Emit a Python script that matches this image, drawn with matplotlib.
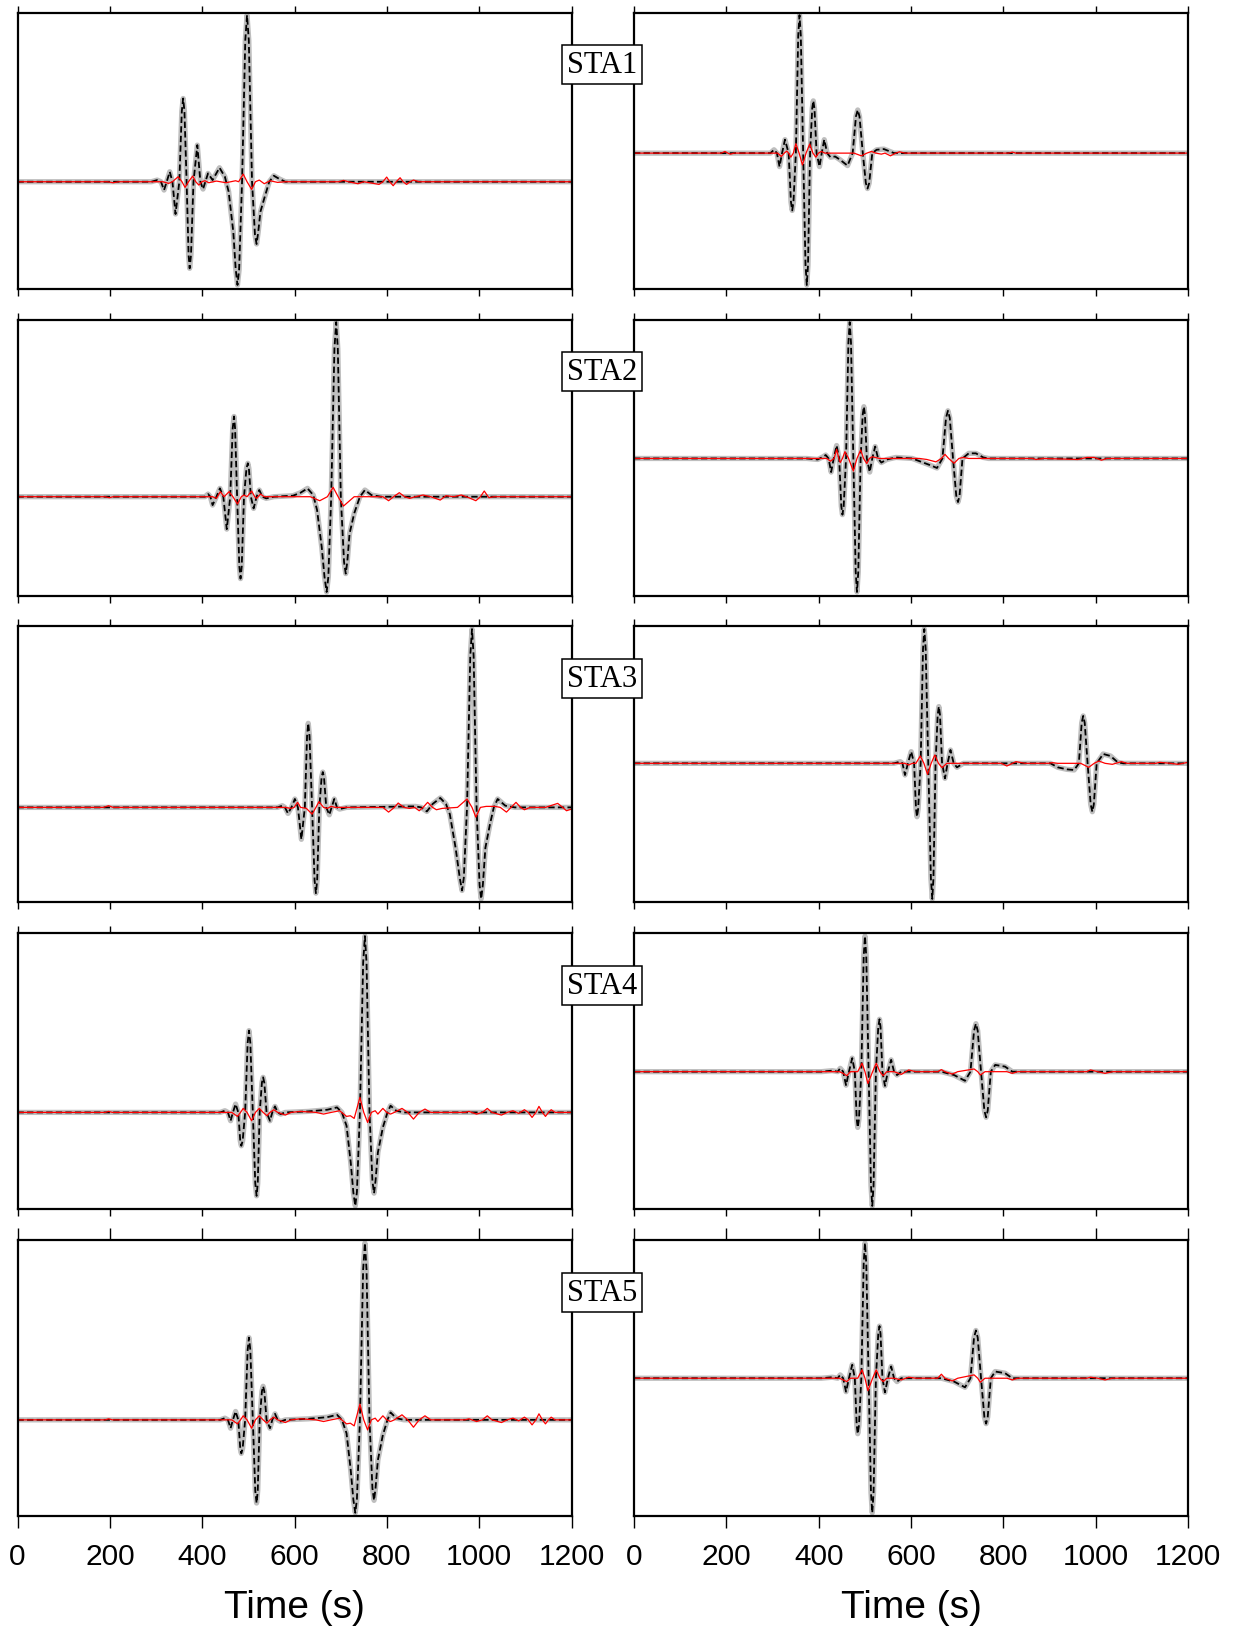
import matplotlib
matplotlib.use("Agg")
import matplotlib.pyplot as plt

plt.rcParams['font.family'] = ['Liberation Sans', 'DejaVu Sans']

stations = ["STA1", "STA2", "STA3", "STA4", "STA5"]
xticks = [0, 200, 400, 600, 800, 1000, 1200]

# ---- traces (time in s, amplitude in arbitrary units)
# observed (grey) and synthetic (black dashed) overlap, so one set of knots
t_sta1_l = [0, 290.0, 302.5, 310.8, 317.4, 323.2, 329.8, 335.6, 342.3, 350.5, 355.9, 358.8, 361.6, 366.3,
            370.6, 372.9, 375.8, 381.2, 389.5, 396.1, 401.9, 406.9, 412.7, 422.6, 437.5, 449.2, 457.4,
            467.4, 472.5, 476.5, 480.0, 486.4, 493.4, 497.2, 501.0, 508.0, 514.4, 517.9, 521.5, 526.2,
            534.5, 545.3, 555.2, 567.7, 580.1, 1200]
a_sta1_l = [0, 0, 5, 0, -25, 0, 30, 0, -97, 0, 212, 250, 212, 0, -220, -260, -220, 0, 110, 0, -22, 0, 25,
            5, 42, 15, -30, -150, -260, -310, -265, 0, 425, 500, 425, 0, -160, -187, -150, -90, -50, 0,
            18, 8, 0, 0]
rt_sta1_l = [0, 194.7, 207.2, 219.6, 314.9, 327.3, 335.6, 348.0, 356.3, 362.9, 370.4, 379.5, 386.1, 392.8,
             399.4, 406.0, 414.3, 430.9, 451.6, 472.4, 479.0, 488.9, 497.2, 507.1, 515.4, 523.7, 534.5,
             546.9, 563.5, 580.1, 696.1, 706.1, 716.8, 737.5, 750.0, 783.1, 791.4, 799.7, 806.3, 813.8,
             820.4, 828.7, 835.3, 842.8, 850.2, 857.7, 870.1, 1200]
ra_sta1_l = [0, 0, -3, 0, 0, -5, 0, 15, 0, -17, 0, 17, 0, -10, 0, 3, -3, 2, -3, 3, 0, 23, 0, -23, 0, 5, -6,
             3, -2, 0, 0, 4, 0, -6, 0, -8, 0, 14, 0, -12, 0, 12, 0, -8, 0, 5, 0, 0]

t_sta1_r = [0, 295.5, 303.3, 309.6, 315.2, 320.7, 327.0, 334.9, 340.0, 342.7, 345.4, 350.6, 355.7, 358.5,
            361.3, 366.4, 371.5, 374.3, 376.9, 381.4, 386.0, 388.4, 390.9, 395.5, 401.8, 406.6, 412.1,
            418.4, 425.5, 435.7, 446.7, 462.5, 473.6, 480.8, 484.6, 488.4, 495.6, 502.2, 505.8, 509.4,
            516.1, 525.5, 541.3, 563.3, 1200]
a_sta1_r = [0, 0, 10, 0, -40, 0, 40, 0, -145, -170, -145, 0, 348, 409, 348, 0, -332, -391, -332, 0, 132,
            155, 132, 0, -40, 0, 40, 0, -12, -10, -20, -37, 0, 109, 128, 109, 0, -89, -105, -89, 0, 10,
            12, 0, 0]
rt_sta1_r = [0, 189.1, 197.0, 203.3, 208.8, 216.7, 311.2, 319.1, 325.4, 330.9, 334.9, 339.6, 345.1, 350.6,
             357.7, 364.8, 372.7, 380.6, 387.6, 393.9, 399.5, 405.8, 413.6, 476.7, 492.4, 504.3, 514.5,
             524.0, 535.8, 543.6, 555.5, 567.3, 575.2, 587.0, 811.5, 819.4, 827.3, 1200]
ra_sta1_r = [0, 0, 5, 0, -3, 0, 0, -10, 0, 6, 0, -12, 0, 28, 0, -35, 0, 27, 0, -12, 0, 5, 0, 0, -8, 0, 5,
             0, -3, 0, -8, 0, 4, 0, 0, 3, 0, 0]

t_sta2_l = [0, 397.8, 406.1, 412.7, 417.7, 422.6, 430.9, 438.4, 445.8, 453.3, 460.8, 466.1, 469.0, 471.3,
            475.7, 480.5, 483.1, 485.7, 490.6, 496.0, 498.9, 501.2, 505.5, 511.4, 517.9, 523.7, 530.4,
            538.7, 555.2, 596.7, 613.2, 628.2, 640.6, 648.9, 658.9, 665.0, 669.6, 673.3, 679.5, 686.5,
            690.3, 693.8, 700.3, 707.3, 711.0, 714.3, 719.3, 729.3, 741.7, 752.5, 766.6, 787.3, 1200]
a_sta2_l = [0, 0, 0, 8, 0, -25, 0, 25, 0, -97, 0, 204, 240, 204, 0, -208, -245, -208, 0, 85, 100, 85, 0,
            -35, 0, 20, 0, -5, 0, 3, 12, 25, 5, -40, -150, -240, -285, -240, 0, 444, 522, 444, 0, -195,
            -230, -195, -110, -50, 0, 20, 5, 0, 0]
rt_sta2_l = [0, 190.6, 198.9, 207.2, 422.6, 430.9, 439.2, 447.5, 458.3, 466.6, 476.5, 484.8, 490.6, 497.2,
             507.1, 513.8, 517.9, 526.2, 534.5, 621.5, 634.0, 654.7, 671.2, 683.7, 694.5, 706.1, 729.3,
             791.4, 803.8, 814.6, 827.0, 838.6, 849.4, 861.8, 878.4, 895.0, 915.7, 928.1, 944.7, 961.3,
             977.9, 992.8, 1002.7, 1011.0, 1021.0, 1031.7, 1200]
ra_sta2_l = [0, 0, -3, 0, 0, -5, 15, 0, 15, 0, -22, 0, 5, 0, 17, 0, -5, 8, 0, 0, 0, -12, 0, 28, 0, -28, 0,
             0, -12, 0, 12, 0, -5, 0, 5, 0, -10, 3, 0, 5, -3, -12, 0, 17, -3, 0, 0]

t_sta2_r = [0, 374.3, 397.9, 409.7, 415.2, 421.5, 427.0, 432.6, 438.9, 444.4, 449.0, 451.5, 454.2, 459.3,
            464.4, 467.2, 470.0, 475.1, 480.2, 483.0, 485.8, 490.9, 495.4, 497.9, 500.2, 504.3, 510.6,
            516.1, 522.4, 528.7, 535.8, 547.7, 567.3, 602.7, 622.4, 642.1, 656.3, 668.1, 675.8, 680.0,
            684.0, 691.0, 698.0, 701.8, 705.2, 711.5, 724.9, 740.6, 756.4, 768.2, 1200]
a_sta2_r = [0, 0, -3, 5, 10, 0, -40, 0, 38, 0, -140, -165, -140, 0, 340, 400, 340, 0, -333, -392, -333, 0,
            129, 152, 129, 0, -40, 0, 35, 0, -12, -3, 3, 0, -10, -20, -28, 0, 119, 140, 119, 0, -109,
            -128, -109, 0, 15, 15, 3, 0, 0]
rt_sta2_r = [0, 417.6, 425.5, 433.4, 438.9, 443.6, 446.7, 451.5, 456.9, 464.8, 475.1, 483.0, 490.9, 497.2,
             504.3, 509.8, 516.1, 531.8, 618.5, 634.3, 654.0, 665.8, 673.6, 681.5, 693.3, 703.6, 713.1,
             724.9, 862.8, 870.7, 886.4, 961.3, 981.0, 996.8, 1012.5, 1024.4, 1200]
ra_sta2_r = [0, 0, -8, 0, 27, 0, -12, 0, 20, 0, -37, 0, 25, 0, -15, 0, 5, 0, 0, -3, -10, 0, 12, 0, -14, 0,
             3, 0, 0, -3, 0, -3, 3, 3, -5, 0, 0]

t_sta3_l = [0, 563.5, 573.5, 579.3, 585.9, 593.3, 600.8, 607.4, 614.9, 622.4, 627.2, 629.8, 632.5, 638.1,
            643.5, 646.4, 649.1, 653.8, 658.7, 661.3, 663.9, 668.8, 675.4, 680.4, 686.2, 692.0, 697.8,
            712.7, 861.8, 874.3, 886.7, 899.1, 915.7, 928.1, 936.4, 948.9, 958.0, 962.9, 966.7, 973.7,
            980.7, 984.5, 988.0, 994.4, 1000.9, 1004.4, 1008.0, 1013.5, 1023.4, 1031.7, 1040.0, 1056.6,
            1077.3, 1200]
a_sta3_l = [0, 0, 5, 0, -18, 0, 25, 0, -95, 0, 212, 250, 212, 0, -217, -255, -217, 0, 89, 105, 89, 0, -22,
            0, 25, 0, -5, 0, 3, 0, -12, 10, 28, 10, -20, -120, -210, -247, -210, 0, 450, 530, 450, 0,
            -231, -272, -230, -120, -50, 0, 25, 5, 0, 0]
rt_sta3_l = [0, 186.5, 197.2, 207.2, 580.1, 592.5, 599.2, 606.6, 613.2, 625.7, 638.1, 646.4, 653.0, 662.9,
             671.2, 679.5, 687.8, 791.4, 803.8, 816.3, 824.6, 837.0, 849.4, 860.2, 870.1, 878.4, 888.4,
             899.1, 907.4, 919.9, 953.0, 973.7, 984.5, 992.8, 1002.7, 1015.2, 1034.2, 1045.8, 1059.1,
             1069.0, 1079.8, 1089.7, 1098.0, 1110.5, 1143.6, 1170.1, 1180.9, 1189.2, 1200]
ra_sta3_l = [0, 0, 5, 0, 0, -3, 0, 15, 0, -3, -20, 0, 17, 0, -3, 3, 0, 0, -14, 0, 13, 0, -3, 0, -10, 0, 15,
             0, -7, -3, 0, 25, 0, -29, 0, 3, 3, 0, -14, 0, 15, 0, -7, 0, 0, 12, 0, -10, -5]

t_sta3_r = [0, 563.3, 576.7, 581.5, 587.0, 593.3, 600.4, 606.7, 610.8, 613.0, 615.5, 620.9, 626.0, 628.8,
            631.8, 637.4, 643.1, 646.1, 648.6, 653.2, 657.8, 660.3, 662.8, 667.3, 673.6, 679.2, 685.5,
            692.5, 699.6, 713.1, 902.1, 917.9, 937.6, 953.4, 963.6, 969.7, 973.0, 976.3, 982.5, 989.2,
            992.8, 996.0, 1002.2, 1016.4, 1032.1, 1047.9, 1059.7, 1200]
a_sta3_r = [0, 0, 5, 0, -35, 0, 35, 0, -136, -160, -136, 0, 342, 402, 342, 0, -345, -406, -345, 0, 145,
            170, 145, 0, -45, 0, 40, 0, -12, 0, 0, -12, -18, -20, 0, 121, 142, 121, 0, -123, -145, -123,
            0, 28, 22, 3, 0, 0]
rt_sta3_r = [0, 587.0, 594.9, 602.7, 610.6, 620.1, 628.0, 635.8, 643.7, 651.6, 659.5, 667.3, 677.6, 689.4,
             795.8, 807.6, 827.3, 847.0, 898.2, 906.1, 917.9, 957.3, 967.6, 984.9, 996.7, 1006.9, 1020.4,
             1036.1, 1055.8, 1067.6, 1130.7, 1138.5, 1162.2, 1178.0, 1200]
ra_sta3_r = [0, 0, -5, 0, 0, 22, 0, -33, 0, 25, 0, -13, 0, 0, 0, -8, 5, 0, 0, 2, 0, 0, 0, -12, 0, 7, 0, -3,
             5, 0, 0, 3, 0, -3, 3]

t_sta4_l = [0, 439.2, 449.2, 455.8, 461.6, 466.6, 472.4, 478.2, 482.5, 484.8, 487.7, 493.1, 498.5, 501.4,
            504.3, 509.7, 515.0, 517.9, 520.4, 524.6, 529.4, 532.0, 534.6, 539.5, 546.9, 551.9, 557.7,
            563.5, 570.1, 580.1, 629.8, 671.2, 692.0, 702.7, 712.7, 721.8, 727.5, 731.7, 735.2, 741.7,
            748.7, 752.5, 756.0, 762.4, 768.8, 772.3, 775.5, 780.6, 791.4, 801.4, 808.0, 820.4, 837.0, 1200]
a_sta4_l = [0, 0, 5, 0, -25, 0, 25, 0, -85, -100, -85, 0, 208, 245, 208, 0, -212, -250, -212, 0, 89, 105,
            89, 0, -25, 0, 18, 0, -5, 0, 3, 8, 15, 0, -40, -150, -240, -280, -238, 0, 449, 528, 449, 0,
            -206, -242, -205, -120, -45, 0, 20, 5, 0, 0]
rt_sta4_l = [0, 190.6, 197.2, 205.5, 464.1, 476.5, 483.1, 488.9, 497.2, 507.1, 515.4, 523.7, 532.0, 540.3,
             546.9, 555.2, 563.5, 580.1, 592.5, 613.2, 646.4, 662.9, 679.5, 697.8, 712.7, 721.0, 729.3,
             741.7, 750.0, 758.3, 766.5, 774.8, 780.6, 791.4, 799.7, 808.0, 816.3, 832.8, 845.3, 857.7,
             870.1, 882.6, 895.0, 969.6, 977.9, 994.4, 1006.9, 1017.6, 1027.6, 1048.3, 1060.7, 1073.2,
             1085.6, 1098.0, 1106.3, 1114.6, 1122.9, 1129.5, 1137.0, 1143.6, 1150.2, 1156.0, 1164.3, 1200]
ra_sta4_l = [0, 0, 3, 0, 0, -12, 0, 12, 0, -25, 0, 12, 0, -10, 0, 8, 0, -8, 0, 3, 0, -5, 0, 5, -12, -10,
             -18, 45, 0, -30, 0, 5, -5, 12, 0, -5, 0, 12, 0, -20, 0, 10, 0, 0, 3, -5, 0, 12, 0, -8, 0, 5,
             -3, 8, 0, -15, 0, 18, 0, -12, 0, 8, 0, 0]

t_sta4_r = [0, 405.8, 429.4, 441.2, 446.7, 453.0, 459.3, 465.6, 472.7, 478.3, 482.4, 484.6, 487.3, 492.4,
            497.5, 500.3, 503.1, 508.2, 513.3, 516.1, 518.9, 524.0, 529.1, 531.8, 534.0, 538.1, 543.6,
            549.9, 557.0, 563.3, 569.7, 579.1, 665.8, 693.3, 717.0, 728.8, 736.5, 740.6, 744.5, 751.7,
            758.9, 762.7, 766.2, 772.9, 782.4, 803.7, 819.4, 1200]
a_sta4_r = [0, 0, 3, 0, 10, 0, -40, 0, 40, 0, -140, -165, -140, 0, 341, 401, 341, 0, -337, -397, -337, 0,
            132, 155, 132, 0, -42, 0, 35, 0, -10, 0, 0, -10, -27, 0, 121, 142, 121, 0, -115, -135, -115,
            0, 20, 15, 0, 0]
rt_sta4_r = [0, 445.2, 453.0, 460.9, 468.8, 478.3, 484.6, 494.0, 500.3, 506.6, 516.9, 524.7, 532.6, 539.7,
             547.6, 563.3, 579.1, 594.9, 610.6, 657.9, 665.8, 673.6, 689.4, 701.2, 736.7, 744.6, 750.1,
             760.3, 807.6, 819.4, 831.2, 980.9, 988.8, 1004.6, 1020.3, 1036.1, 1200]
ra_sta4_r = [0, 0, -5, -12, 0, 0, 0, 25, 0, -35, 0, 25, 0, -12, 0, 0, -8, 5, 0, 0, 6, 0, -7, 0, 8, 0, -10,
             0, 0, -5, 0, 0, 5, 0, -5, 0, 0]

t_sta5_l = [0, 439.2, 449.2, 455.8, 461.6, 466.6, 472.4, 478.2, 482.5, 484.8, 487.7, 493.1, 498.5, 501.4,
            504.3, 509.7, 515.0, 517.9, 520.4, 524.6, 529.4, 532.0, 534.6, 539.5, 546.9, 551.9, 557.7,
            563.5, 570.1, 580.1, 629.8, 671.2, 692.0, 702.7, 712.7, 721.8, 727.5, 731.7, 735.2, 741.7,
            748.7, 752.5, 756.0, 762.4, 768.8, 772.3, 775.5, 780.6, 791.4, 801.4, 808.0, 820.4, 837.0, 1200]
a_sta5_l = [0, 0, 5, 0, -25, 0, 25, 0, -85, -100, -85, 0, 208, 245, 208, 0, -211, -248, -211, 0, 85, 100,
            85, 0, -25, 0, 18, 0, -5, 0, 3, 8, 15, 0, -40, -150, -238, -277, -236, 0, 448, 527, 448, 0,
            -204, -240, -204, -120, -45, 0, 22, 5, 0, 0]
rt_sta5_l = [0, 190.6, 197.2, 205.5, 464.1, 476.5, 483.1, 488.9, 497.2, 507.1, 515.4, 523.7, 532.0, 540.3,
             546.9, 555.2, 563.5, 580.1, 592.5, 613.2, 646.4, 662.9, 679.5, 697.8, 712.7, 721.0, 729.3,
             741.7, 750.0, 758.3, 766.5, 774.8, 780.6, 791.4, 799.7, 808.0, 816.3, 832.8, 845.3, 857.7,
             870.1, 882.6, 895.0, 969.6, 977.9, 994.4, 1006.9, 1017.6, 1027.6, 1048.3, 1060.7, 1073.2,
             1085.6, 1098.0, 1106.3, 1114.6, 1122.9, 1129.5, 1137.0, 1143.6, 1150.2, 1156.0, 1164.3, 1200]
ra_sta5_l = [0, 0, 3, 0, 0, -12, 0, 12, 0, -25, 0, 12, 0, -10, 0, 8, 0, -8, 0, 3, 0, -5, 0, 5, -12, -10,
             -18, 47, 0, -30, 0, 5, -5, 12, 0, -5, 0, 15, 0, -22, 0, 12, 0, 0, 3, -5, 0, 12, 0, -8, 0, 5,
             -3, 8, 0, -15, 0, 18, 0, -12, 0, 8, 0, 0]

t_sta5_r = [0, 405.8, 429.4, 441.2, 446.7, 453.0, 459.3, 465.6, 472.7, 478.3, 482.4, 484.6, 487.3, 492.4,
            497.5, 500.3, 503.1, 508.2, 513.3, 516.1, 518.9, 524.0, 529.1, 531.8, 534.0, 538.1, 543.6,
            549.9, 557.0, 563.3, 569.7, 579.1, 665.8, 693.3, 717.0, 728.8, 736.5, 740.6, 744.5, 751.7,
            758.9, 762.7, 766.2, 772.9, 782.4, 803.7, 819.4, 1200]
a_sta5_r = [0, 0, 3, 0, 10, 0, -40, 0, 40, 0, -140, -165, -140, 0, 342, 402, 342, 0, -340, -400, -340, 0,
            132, 155, 132, 0, -42, 0, 35, 0, -10, 0, 0, -10, -27, 0, 121, 142, 121, 0, -115, -135, -115,
            0, 20, 15, 0, 0]
rt_sta5_r = [0, 445.2, 453.0, 460.9, 468.8, 478.3, 484.6, 494.0, 500.3, 506.6, 516.9, 524.7, 532.6, 539.7,
             547.6, 563.3, 579.1, 594.9, 610.6, 657.9, 665.8, 673.6, 689.4, 701.2, 736.7, 744.6, 750.1,
             760.3, 807.6, 819.4, 831.2, 980.9, 988.8, 1004.6, 1020.3, 1036.1, 1200]
ra_sta5_r = [0, 0, -5, -10, 0, 0, 0, 25, 0, -37, 0, 25, 0, -10, 0, 0, -5, 3, 0, 0, 12, 0, -8, 0, 10, 0, -12,
             0, 0, -5, 0, 0, 3, 0, -5, 0, 0]

panels = [
    [(t_sta1_l, a_sta1_l, rt_sta1_l, ra_sta1_l), (t_sta1_r, a_sta1_r, rt_sta1_r, ra_sta1_r)],
    [(t_sta2_l, a_sta2_l, rt_sta2_l, ra_sta2_l), (t_sta2_r, a_sta2_r, rt_sta2_r, ra_sta2_r)],
    [(t_sta3_l, a_sta3_l, rt_sta3_l, ra_sta3_l), (t_sta3_r, a_sta3_r, rt_sta3_r, ra_sta3_r)],
    [(t_sta4_l, a_sta4_l, rt_sta4_l, ra_sta4_l), (t_sta4_r, a_sta4_r, rt_sta4_r, ra_sta4_r)],
    [(t_sta5_l, a_sta5_l, rt_sta5_l, ra_sta5_l), (t_sta5_r, a_sta5_r, rt_sta5_r, ra_sta5_r)],
]

# ---- layout (pixels of the 1233x1631 canvas)
W, H = 1233, 1631
col_left = [17.5, 634.0]
ax_w, ax_h = 554.0, 276.0
row_top = [13.5, 320.5, 627.4, 934.4, 1241.3]

fig = plt.figure(figsize=(W / 100, H / 100), dpi=100)

for i, row in enumerate(panels):
    for j, (t, a, rt, ra) in enumerate(row):
        ax = fig.add_axes([col_left[j] / W, 1 - (row_top[i] + ax_h) / H, ax_w / W, ax_h / H])
        ax.plot(t, a, color='#bebebe', lw=3.8, solid_joinstyle='round', solid_capstyle='round')
        ax.plot(t, a, color='black', lw=1.3, dashes=(3.5, 1.8))
        ax.plot(rt, ra, color='red', lw=0.9)
        lo, hi = min(a), max(a)
        span = hi - lo
        ax.set_xlim(0, 1200)
        ax.set_ylim(lo - 0.013 * span, hi + 0.01 * span)
        ax.set_yticks([])
        ax.set_xticks(xticks)
        last = i == len(panels) - 1
        ax.tick_params(axis='x', direction='out', top=True, bottom=True, width=1.0,
                       length=5, labelbottom=last, labelsize=21.5, pad=10)
        if last:
            ax.tick_params(axis='x', which='major', bottom=True, length=8.5)
            ax.set_xlabel("Time (s)", fontsize=28, labelpad=14)
        for s in ax.spines.values():
            s.set_linewidth(1.6)

    fig.text(601.7 / W, 1 - (row_top[i] + 52) / H, stations[i], family=['Liberation Serif', 'DejaVu Serif'],
             fontsize=22, ha='center', va='center', zorder=10,
             bbox=dict(boxstyle='square,pad=0.16', facecolor='white', edgecolor='black', linewidth=1.1))

fig.savefig("out.png", dpi=100)
